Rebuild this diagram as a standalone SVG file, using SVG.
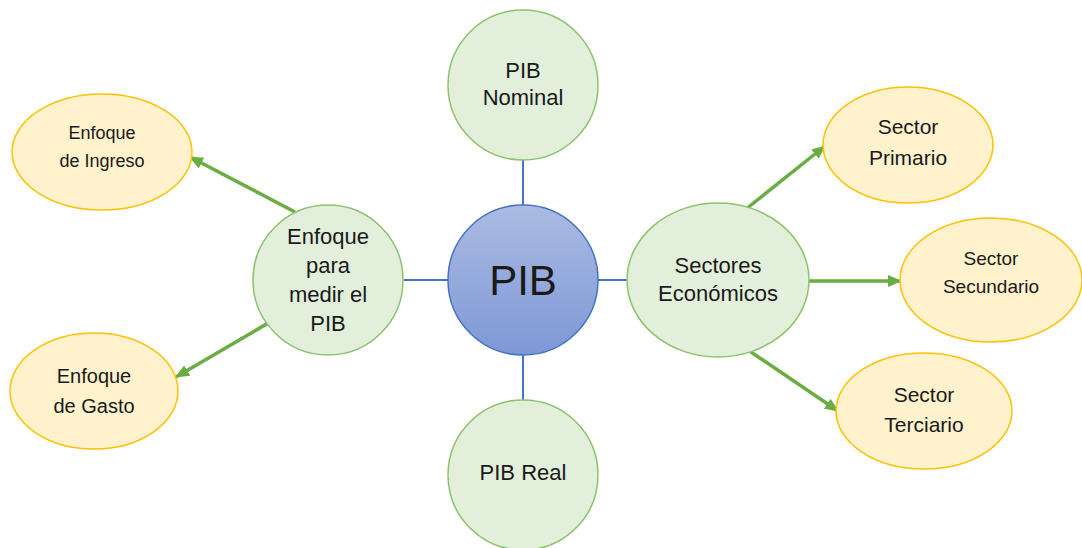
<svg xmlns="http://www.w3.org/2000/svg" width="1082" height="548" viewBox="0 0 1082 548">
<style>
text{font-family:"Liberation Sans",Arial,sans-serif;fill:#1a1a1a;text-anchor:middle}
.g{fill:#E2EFDA;stroke:#8CC36A;stroke-width:1.5}
.y{fill:#FFF2CC;stroke:#FFC000;stroke-width:1.5}
.bl{stroke:#4472C4;stroke-width:2;fill:none}
.ar{stroke:#6AAD42;stroke-width:3.5;fill:none;marker-end:url(#ah)}
</style>
<defs>
<linearGradient id="pg" x1="0" y1="0" x2="0" y2="1">
<stop offset="0" stop-color="#ABBBE2"/>
<stop offset="1" stop-color="#7E98D6"/>
</linearGradient>
<marker id="ah" markerUnits="userSpaceOnUse" markerWidth="14" markerHeight="12" refX="13" refY="6" orient="auto">
<path d="M0,0 L14,6 L0,12 Z" fill="#6AAD42"/>
</marker>
</defs>
<rect width="1082" height="548" fill="#fff"/>
<g id="connectors">
<line class="bl" x1="523" y1="160" x2="523" y2="205"/>
<line class="bl" x1="523" y1="355" x2="523" y2="400"/>
<line class="bl" x1="404" y1="280" x2="448" y2="280"/>
<line class="bl" x1="598" y1="280" x2="627" y2="280"/>
<line class="ar" x1="295" y1="212" x2="190" y2="157"/>
<line class="ar" x1="270" y1="322" x2="176" y2="377"/>
<line class="ar" x1="746" y1="209" x2="825" y2="146"/>
<line class="ar" x1="800" y1="281" x2="901" y2="281"/>
<line class="ar" x1="748" y1="350" x2="838" y2="411"/>
</g>
<g id="pib">
<circle cx="523" cy="280" r="75" fill="url(#pg)" stroke="#4472C4" stroke-width="1.5"/>
<text x="523" y="295" font-size="42">PIB</text>
</g>
<g id="pib-nominal">
<circle class="g" cx="523" cy="85" r="75"/>
<text x="523" y="78" font-size="22">PIB</text>
<text x="523" y="105" font-size="22">Nominal</text>
</g>
<g id="pib-real">
<circle class="g" cx="523" cy="475" r="75"/>
<text x="523" y="480" font-size="22">PIB Real</text>
</g>
<g id="enfoque-medir">
<circle class="g" cx="328" cy="280" r="75"/>
<text x="328" y="244" font-size="22">Enfoque</text>
<text x="328" y="273" font-size="22">para</text>
<text x="328" y="302" font-size="22">medir el</text>
<text x="328" y="331" font-size="22">PIB</text>
</g>
<g id="sectores">
<ellipse class="g" cx="718" cy="280" rx="91" ry="77"/>
<text x="718" y="273" font-size="22">Sectores</text>
<text x="718" y="301" font-size="22">Económicos</text>
</g>
<g id="enfoque-ingreso">
<ellipse class="y" cx="102" cy="152" rx="90" ry="58"/>
<text x="102" y="139" font-size="18">Enfoque</text>
<text x="102" y="167" font-size="18">de Ingreso</text>
</g>
<g id="enfoque-gasto">
<ellipse class="y" cx="94" cy="391" rx="84" ry="58"/>
<text x="94" y="383" font-size="20">Enfoque</text>
<text x="94" y="413" font-size="20">de Gasto</text>
</g>
<g id="sector-primario">
<ellipse class="y" cx="908" cy="145" rx="85" ry="58"/>
<text x="908" y="134" font-size="21">Sector</text>
<text x="908" y="165" font-size="21">Primario</text>
</g>
<g id="sector-secundario">
<ellipse class="y" cx="991" cy="280" rx="91" ry="62"/>
<text x="991" y="265" font-size="19">Sector</text>
<text x="991" y="293" font-size="19">Secundario</text>
</g>
<g id="sector-terciario">
<ellipse class="y" cx="924" cy="411" rx="88" ry="58"/>
<text x="924" y="402" font-size="21">Sector</text>
<text x="924" y="432" font-size="21">Terciario</text>
</g>
</svg>
